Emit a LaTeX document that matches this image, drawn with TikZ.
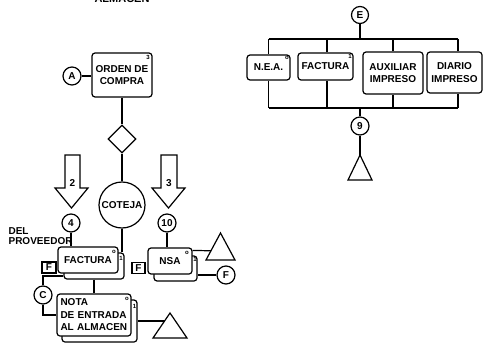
\documentclass[tikz,border=0pt]{standalone}
\usepackage{fontspec}
\setmainfont{Liberation Sans}
\usetikzlibrary{shapes.geometric,calc}
\begin{document}
\begin{tikzpicture}[x=1pt,y=-1pt, line width=1.2pt,
 lbl/.style={font=\bfseries\fontsize{10}{12.5}\selectfont},
 doc/.style={draw, fill=white, rounded corners=3pt, inner sep=0pt, align=center, lbl},
 bx/.style={draw, fill=white, inner sep=0pt, lbl},
 conn/.style={draw, circle, fill=white, inner sep=0pt, minimum size=18pt, lbl},
 tiny/.style={font=\bfseries\fontsize{6}{6}\selectfont, inner sep=0pt},
 tri/.style={draw, fill=white, line join=miter},
 bigarrow/.style={draw, fill=white, line join=miter}
 ]
\useasboundingbox (0,0) rectangle (484,345);
\clip (0,0) rectangle (484,345);

% title (cut off at the top, as in the reference)
\node[font=\bfseries\fontsize{11}{12}\selectfont, anchor=base, inner sep=0] (title) at (122,2.5) {ALMACEN};

% ---------- left part ----------
\node[doc, minimum width=60, minimum height=44] (oc) at (122,75) {ORDEN DE\\COMPRA};
\node[tiny] (oc3) at (148,57) {3};
\node[conn] (A) at (72,76) {A};
\draw (A.east) -- (A.east -| oc.west);
\node[draw, diamond, aspect=1, minimum size=28, inner sep=0, fill=white] (dm) at (122,139) {};
\node[conn, minimum size=46] (cot) at (122,205) {COTEJA};
\draw (oc.south) -- (dm.north);
\draw (dm.south) -- (cot.north);

% big flow arrows
\draw[bigarrow] (65,155) -- (80,155) -- (80,188) -- (88,188) -- (71.5,208) -- (55,188) -- (65,188) -- cycle;
\node[lbl, inner sep=0] (n2) at (72.5,183) {2};
\draw[bigarrow] (161,155) -- (177,155) -- (177,188) -- (185,188) -- (168.5,208) -- (152,188) -- (161,188) -- cycle;
\node[lbl, inner sep=0] (n3) at (169,183) {3};

\node[conn] (c4) at (71,223) {4};
\node[conn] (c10) at (167,223) {10};
\node[lbl, align=left, anchor=west, inner sep=0] (prov) at (8,236.5) {DEL\\[-2.5pt]PROVEEDOR};

% FACTURA stack
\node[doc, minimum width=60, minimum height=26] (fb) at (94,266) {};
\node[doc, minimum width=60, minimum height=26] (ff) at (88,260) {FACTURA};
\node[tiny] (ff0) at (114,251.5) {o};
\node[tiny] (fb1) at (121,258) {1};
\node[bx, minimum width=14, minimum height=11] (fF) at (49,267.5) {F};
\draw (c4.south) -- (c4.south |- ff.north);
\draw (cot.south) -- (cot.south |- fb.north);

% C connector
\node[conn] (C) at (43,295) {C};

% NOTA DE ENTRADA stack
\node[doc, minimum width=75, minimum height=42] (nb) at (99.5,321) {};
\node[doc, minimum width=74, minimum height=42, align=left, text width=67] (nf) at (94,315) {NOTA\\DE ENTRADA\\AL ALMACEN};
\node[tiny] (nf0) at (127,298.5) {o};
\node[tiny] (nb1) at (134.5,306) {1};
\draw (C.north) |- ($(fb.west)+(0,10)$);
\draw (C.south) |- (nf.west);
\draw (fb.south) -- (fb.south |- nf.north);

% triangle next to NOTA
\coordinate (t1) at (170,330);
\draw (nb.east) -- (nb.east -| t1);
\draw[tri] (153,338) -- (170,313) -- (187,338) -- cycle;

% NSA stack
\node[doc, minimum width=43, minimum height=25] (sb) at (175.5,268.5) {};
\node[doc, minimum width=44, minimum height=26] (sf) at (170,261) {NSA};
\node[tiny] (sf0) at (187,252.5) {o};
\node[tiny] (sb1) at (195,259) {1};
\node[bx, minimum width=13, minimum height=10.5] (sF) at (138.5,268) {F};
\draw (c10.south) -- (c10.south |- sf.north);

% triangle next to NSA
\coordinate (t2) at (220.5,251);
\draw ($(sf.north east)+(0,3)$) -- (t2);
\draw[tri] (206,260) -- (220.5,233) -- (235,260) -- cycle;

\node[conn] (Fc) at (226,275) {F};
\draw (Fc.west) -- (Fc.west -| sb.east);

% ---------- right part ----------
\node[conn, minimum size=17] (E) at (360,15) {E};
\node[doc, minimum width=43, minimum height=25] (nea) at (268.5,67.5) {N.E.A.};
\node[tiny] (nea0) at (287,57.5) {o};
\node[doc, minimum width=55, minimum height=27] (fac2) at (325.5,66.5) {FACTURA};
\node[tiny] (fac1) at (350,56.5) {1};
\node[doc, minimum width=60, minimum height=42] (aux) at (393,73) {AUXILIAR\\IMPRESO};
\node[doc, minimum width=55, minimum height=41] (dia) at (454.5,72.5) {DIARIO\\IMPRESO};
\node[conn] (c9) at (360,126) {9};

\coordinate (bt) at (360,39);
\coordinate (bb) at (360,108);
\draw (E.south) -- (bt);
\draw (269,39 -| nea.north) -- (458,39);
\draw (nea.north) -- (nea.north |- bt);
\draw (327,39) -- (327,39 |- fac2.north);
\draw (aux.north) -- (aux.north |- bt);
\draw (458,39) -- (458,39 |- dia.north);

\draw (nea.south) -- (nea.south |- bb);
\draw (327,108) -- (327,108 |- fac2.south);
\draw (aux.south) -- (aux.south |- bb);
\draw (458,108) -- (458,108 |- dia.south);
\draw (269,108) -- (458,108);
\draw (bb) -- (c9.north);

\coordinate (t3) at (360,155);
\draw (c9.south) -- (t3);
\draw[tri] (348,180) -- (t3) -- (372,180) -- cycle;
\end{tikzpicture}
\end{document}
